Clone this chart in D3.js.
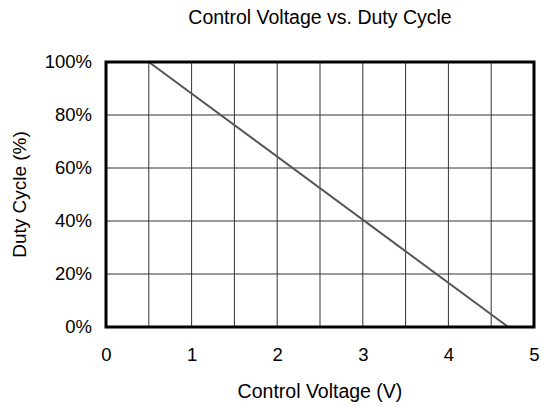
<!DOCTYPE html>
<html lang="en">
<head>
  <meta charset="UTF-8">
  <title>Control Voltage vs. Duty Cycle</title>
  <script src="https://d3js.org/d3.v7.min.js"></script>
  <style>
    body { margin: 0; padding: 0; background: #fff; }
    text { font-family: 'Liberation Sans', Arial, sans-serif; fill: #000; }
  </style>
</head>
<body>
  <svg id="chart"></svg>
  <script>
    const voltage = [0.5, 4.7];
    const duty = [100, 0];
    const xTicks = [0, 1, 2, 3, 4, 5];
    const yTicks = [0, 20, 40, 60, 80, 100];
    const xGrid = [0.5, 1, 1.5, 2, 2.5, 3, 3.5, 4, 4.5];

    const W = 541, H = 406;
    const margin = { top: 62, right: 7, bottom: 79, left: 106 };
    const width = W - margin.left - margin.right;
    const height = H - margin.top - margin.bottom;

    const svg = d3.select("#chart").attr("width", W).attr("height", H);
    const g = svg.append("g").attr("transform", `translate(${margin.left},${margin.top})`);

    const x = d3.scaleLinear().domain([0, 5]).range([0, width]);
    const y = d3.scaleLinear().domain([0, 100]).range([height, 0]);

    // grid
    g.selectAll(".vgrid").data(xGrid).enter().append("line")
      .attr("x1", d => x(d)).attr("x2", d => x(d))
      .attr("y1", 0).attr("y2", height)
      .attr("stroke", "#333").attr("stroke-width", 1);
    g.selectAll(".hgrid").data(yTicks.slice(1, -1)).enter().append("line")
      .attr("x1", 0).attr("x2", width)
      .attr("y1", d => y(d)).attr("y2", d => y(d))
      .attr("stroke", "#333").attr("stroke-width", 1);

    // data line
    const data = voltage.map((v, i) => ({ v, d: duty[i] }));
    g.append("path").datum(data)
      .attr("fill", "none").attr("stroke", "#555").attr("stroke-width", 2)
      .attr("d", d3.line().x(d => x(d.v)).y(d => y(d.d)));

    // border
    g.append("rect").attr("x", 0).attr("y", 0).attr("width", width).attr("height", height)
      .attr("fill", "none").attr("stroke", "#000").attr("stroke-width", 3);

    // axes
    const xAxis = g.append("g").attr("transform", `translate(0,${height})`)
      .call(d3.axisBottom(x).tickValues(xTicks).tickSize(0).tickPadding(21).tickFormat(d3.format("d")));
    const yAxis = g.append("g")
      .call(d3.axisLeft(y).tickValues(yTicks).tickSize(0).tickPadding(14).tickFormat(d => d + "%"));
    [xAxis, yAxis].forEach(a => {
      a.select(".domain").remove();
      a.selectAll("text").style("font-size", "18.5px").attr("fill", "#000")
        .style("font-family", "'Liberation Sans', Arial, sans-serif");
    });

    svg.append("text").attr("x", margin.left + width / 2).attr("y", 24)
      .attr("text-anchor", "middle").style("font-size", "19.5px")
      .text("Control Voltage vs. Duty Cycle");
    svg.append("text").attr("x", margin.left + width / 2).attr("y", 398)
      .attr("text-anchor", "middle").style("font-size", "19.5px")
      .text("Control Voltage (V)");
    svg.append("text").attr("transform", `translate(26,${margin.top + height / 2}) rotate(-90)`)
      .attr("text-anchor", "middle").style("font-size", "19px")
      .text("Duty Cycle (%)");
  </script>
</body>
</html>
